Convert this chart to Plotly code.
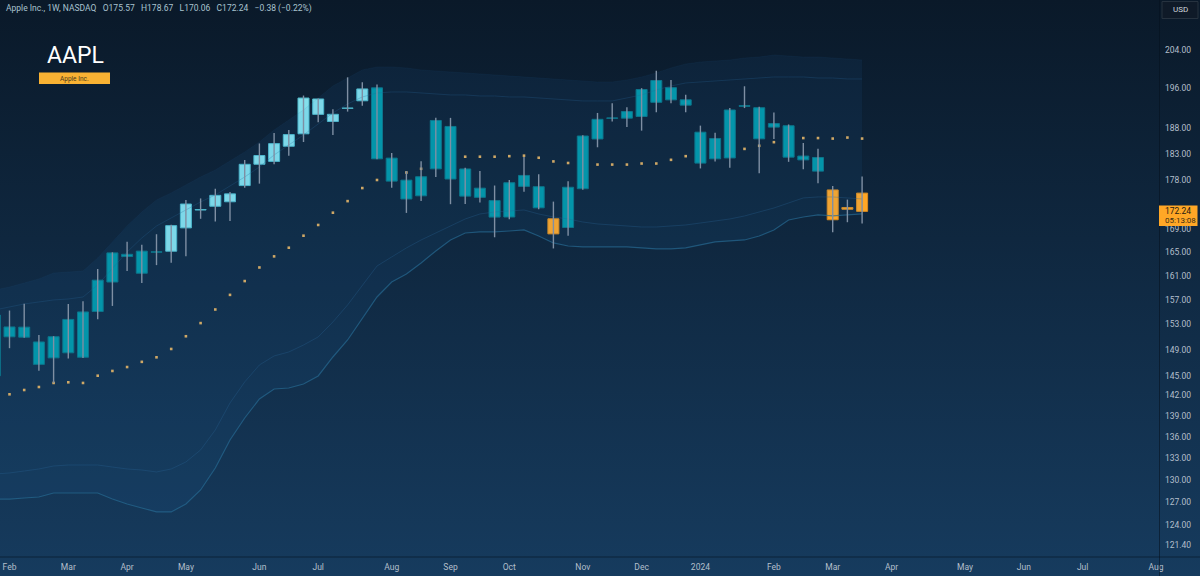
import base64
import math
import pandas as pd
import plotly.graph_objects as go

# ---------------- data (weekly AAPL) ----------------
week_start = "2023-01-30"
n_weeks = 60
dates = pd.date_range(week_start, periods=n_weeks, freq="7D")

opens = [144.96, 152.58, 150.95, 150.20, 147.71, 153.79, 147.81, 155.07, 159.94, 164.27,
         161.42, 165.09, 165.19, 169.28, 172.48, 173.16, 173.98, 176.96, 182.63, 181.50,
         184.41, 186.83, 193.78, 189.26, 191.90, 193.41, 196.06, 182.13, 177.97, 175.07,
         180.09, 188.28, 180.07, 176.48, 174.20, 171.22, 176.81, 176.75, 170.91, 169.35,
         176.38, 185.82, 189.89, 189.92, 190.26, 193.11, 196.09, 193.61, 187.15, 181.99,
         182.16, 192.30, 192.01, 188.15, 188.42, 181.79, 182.24, 176.15, 172.94, 175.57]
highs = [157.38, 155.23, 156.33, 151.30, 151.11, 156.30, 156.74, 162.14, 165.00, 166.84,
         166.32, 168.16, 169.85, 174.30, 174.59, 176.39, 175.77, 181.78, 184.95, 186.99,
         187.56, 194.48, 193.88, 191.70, 198.23, 197.20, 196.73, 183.13, 179.69, 181.55,
         189.98, 189.98, 180.30, 179.70, 176.97, 177.99, 182.34, 179.08, 174.01, 177.78,
         186.57, 190.96, 192.93, 192.09, 195.99, 199.62, 197.68, 194.66, 188.44, 187.05,
         191.95, 196.38, 192.20, 191.05, 188.67, 185.04, 183.92, 176.90, 174.38, 178.67]
lows = [142.85, 149.22, 150.85, 145.72, 143.90, 147.61, 147.70, 153.80, 155.98, 161.80,
        159.78, 162.80, 163.20, 164.31, 170.90, 170.42, 170.52, 176.57, 177.32, 180.97,
        182.59, 185.23, 189.10, 186.60, 191.23, 192.40, 181.92, 176.55, 171.96, 174.10,
        178.55, 173.54, 173.58, 173.86, 167.62, 170.82, 175.80, 172.64, 165.67, 167.90,
        176.21, 184.21, 189.25, 188.19, 187.45, 191.09, 192.90, 191.09, 180.17, 181.50,
        180.30, 191.94, 179.25, 185.84, 181.42, 180.00, 177.38, 168.49, 170.29, 170.06]
closes = [154.50, 151.01, 152.55, 146.71, 151.03, 148.50, 155.00, 160.25, 164.90, 164.66,
          165.21, 165.02, 169.68, 173.57, 172.57, 175.16, 175.43, 180.95, 180.96, 184.92,
          186.68, 193.97, 190.68, 190.69, 191.94, 195.83, 181.99, 177.79, 174.49, 178.61,
          189.46, 178.18, 175.01, 174.79, 171.21, 177.49, 178.85, 172.88, 168.22, 176.65,
          186.40, 189.69, 189.97, 191.24, 195.71, 197.57, 193.60, 192.53, 181.18, 185.92,
          191.56, 192.42, 185.85, 188.85, 182.31, 182.52, 179.66, 170.73, 172.62, 172.24]
candle_class = (["teal"] * 12 + ["light"] * 14 + ["teal"] * 12 + ["orange"]
                + ["teal"] * 18 + ["orange"] * 3)

# dotted indicator (None where it is hidden behind a candle)
dots = [None, 142.18, 142.82, 143.27, 143.88, 143.98, 143.88, 144.98, 145.70, 146.3,
        147.1, 147.8, 149.1, 151.1, 153.2, 155.4, 157.8, 160.1, 162.4, 164.3,
        165.8, 167.9, 169.8, 172.0, 174.1, 176.5, 178.0, None, 179.4, 180.1,
        None, None, 182.4, 182.4, 182.4, 182.5, 182.6, 182.2, 181.5, 181.2,
        None, 180.9, 180.9, 180.9, 181.1, 181.1, 181.8, 182.5, None, None,
        None, 183.9, 184.5, 185.2, None, 186.0, 186.0, 185.9, 186.1, 185.9]

# envelope lines
upper_outer = [158.61, 159.11, 159.78, 160.46, 161.46, 161.63, 161.80, 164.03, 166.80, 169.62,
               172.13, 174.31, 175.60, 177.07, 178.56, 179.88, 181.59, 183.31, 185.24, 187.59,
               189.56, 191.56, 193.99, 196.44, 198.09, 199.77, 200.40, 200.40, 200.19, 199.77,
               199.56, 199.35, 199.14, 198.93, 198.72, 198.51, 198.30, 198.09, 197.89, 197.68,
               197.47, 197.27, 197.27, 197.68, 198.30, 199.14, 200.19, 201.02, 201.44, 201.65,
               201.87, 202.29, 202.50, 202.93, 202.72, 202.50, 202.50, 202.29, 202.08, 201.87]
upper_inner = [155.32, 155.81, 156.30, 156.63, 156.96, 157.12, 157.45, 159.45, 162.31, 165.06,
               167.50, 169.62, 171.05, 172.49, 173.95, 175.23, 176.89, 178.56, 180.45, 182.73,
               184.66, 186.61, 188.77, 190.96, 192.77, 194.19, 195.00, 195.21, 195.21, 195.00,
               194.80, 194.60, 194.60, 194.39, 194.39, 194.19, 194.19, 193.99, 193.78, 193.58,
               193.38, 193.38, 193.38, 193.99, 194.60, 195.62, 196.44, 197.06, 197.27, 197.47,
               197.68, 197.89, 198.09, 198.30, 198.30, 198.30, 198.09, 198.09, 197.89, 197.89]
lower_inner = [130.78, 130.92, 131.19, 131.47, 131.88, 132.02, 132.02, 132.02, 131.74, 131.47,
               131.33, 131.06, 131.47, 132.44, 134.12, 136.96, 140.89, 144.03, 146.62, 148.01,
               148.63, 149.72, 150.99, 153.38, 156.14, 159.45, 162.65, 164.20, 165.76, 167.15,
               168.38, 169.62, 170.87, 171.77, 172.13, 172.31, 172.49, 171.77, 171.23, 170.87,
               170.33, 169.98, 169.80, 169.62, 169.44, 169.44, 169.62, 169.80, 170.15, 170.51,
               170.87, 171.41, 172.13, 172.85, 173.76, 174.68, 174.86, 174.86, 174.68, 174.49]
lower_outer = [127.39, 127.39, 127.53, 127.66, 128.20, 128.20, 128.20, 128.20, 127.39, 126.73,
               126.20, 125.68, 125.68, 126.73, 128.61, 131.61, 135.53, 138.69, 141.48, 142.97,
               143.12, 143.72, 144.94, 147.85, 150.51, 154.02, 157.45, 159.95, 161.30, 163.17,
               165.24, 167.15, 168.38, 168.56, 168.56, 168.73, 168.91, 167.85, 166.63, 166.10,
               165.93, 165.93, 165.93, 165.93, 165.76, 165.58, 165.58, 165.76, 166.28, 166.80,
               166.98, 167.15, 167.85, 168.91, 170.69, 171.23, 171.59, 171.41, 171.59, 171.77]

price_ticks = [204, 196, 188, 183, 178, 169, 165, 161, 157, 153, 149, 145, 142,
               139, 136, 133, 130, 127, 124, 121.40]
month_ticks = ["2023-02-06", "2023-03-06", "2023-04-03", "2023-05-01", "2023-06-05",
               "2023-07-03", "2023-08-07", "2023-09-04", "2023-10-02", "2023-11-06",
               "2023-12-04", "2024-01-01", "2024-02-05", "2024-03-04", "2024-04-01",
               "2024-05-06", "2024-06-03", "2024-07-01", "2024-08-05"]
month_labels = ["Feb", "Mar", "Apr", "May", "Jun", "Jul", "Aug", "Sep", "Oct", "Nov",
                "Dec", "2024", "Feb", "Mar", "Apr", "May", "Jun", "Jul", "Aug"]

# ---------------- styling ----------------
W, H = 1200, 576
PL, PR, PT, PB = 0, 41, 0, 19
PW, PH = W - PL - PR, H - PT - PB

fill_map = {"teal": "#0097a7", "light": "#84dfeb", "orange": "#ffa726"}
edge_map = {"teal": "#0b7486", "light": "#4fb9ca", "orange": "#d98a1f"}
wick_color = "#7f8fa3"
tick_color = "#b3bfcb"
FONT = "Roboto"

week_ms = 7 * 24 * 3600 * 1000
x_start = pd.Timestamp("2023-02-06") - pd.Timedelta(days=7 * 9.5 / 14.7)
x_end = x_start + pd.Timedelta(days=7 * PW / 14.7)
y_range = [math.log10(119.88), math.log10(214.97)]

fig = go.Figure()

# envelope fill + lines
fig.add_trace(go.Scatter(x=dates, y=upper_outer, mode="lines",
                         line=dict(color="rgba(40,100,150,0.12)", width=0.8),
                         hoverinfo="skip"))
fig.add_trace(go.Scatter(x=dates, y=lower_outer, mode="lines", fill="tonexty",
                         fillcolor="rgba(45,130,210,0.075)",
                         line=dict(color="rgba(38,105,145,0.7)", width=1.2),
                         hoverinfo="skip"))
fig.add_trace(go.Scatter(x=dates, y=upper_inner, mode="lines",
                         line=dict(color="rgba(40,100,150,0.28)", width=1),
                         hoverinfo="skip"))
fig.add_trace(go.Scatter(x=dates, y=lower_inner, mode="lines",
                         line=dict(color="rgba(40,100,150,0.32)", width=1),
                         hoverinfo="skip"))

# dots
fig.add_trace(go.Scatter(x=dates, y=dots, mode="markers",
                         marker=dict(symbol="square", size=2.6, color="#cfa866",
                                     line=dict(width=0)),
                         hoverinfo="skip"))

# wicks
wx, wy = [], []
for d, lo, hi in zip(dates, lows, highs):
    wx += [d, d, None]
    wy += [lo, hi, None]
fig.add_trace(go.Scatter(x=wx, y=wy, mode="lines",
                         line=dict(color=wick_color, width=1.4), hoverinfo="skip"))

# bodies
fig.add_trace(go.Bar(
    x=dates,
    base=[min(o, c) for o, c in zip(opens, closes)],
    y=[abs(c - o) for o, c in zip(opens, closes)],
    width=0.75 * week_ms,
    marker=dict(color=[fill_map[k] for k in candle_class],
                line=dict(color=[edge_map[k] for k in candle_class], width=1)),
    hoverinfo="skip"))

# ---------------- background gradient ----------------
svg = (f'<svg xmlns="http://www.w3.org/2000/svg" width="{W}" height="{H}" '
       f'preserveAspectRatio="none"><defs><linearGradient id="g" x1="0" y1="0" '
       f'x2="0" y2="1"><stop offset="0" stop-color="#0a1929"/>'
       f'<stop offset="1" stop-color="#163b5e"/></linearGradient></defs>'
       f'<rect width="{W}" height="{H}" fill="url(#g)"/></svg>')
bg_src = "data:image/svg+xml;base64," + base64.b64encode(svg.encode()).decode()


def px(x):
    return (x - PL) / PW


def py(y):
    return 1 - (y - PT) / PH


last_o, last_h, last_l, last_c = opens[-1], highs[-1], lows[-1], closes[-1]
chg = last_c - closes[-2]
pct = chg / closes[-2] * 100
nb = "\u00a0"
sign = "\u2212" if chg < 0 else "+"
header = (f"Apple Inc., 1W, NASDAQ{nb*2} O{last_o:.2f}{nb*2} H{last_h:.2f}{nb*2} "
          f"L{last_l:.2f}{nb*2} C{last_c:.2f}{nb*2} {sign}{abs(chg):.2f} "
          f"({sign}{abs(pct):.2f}%)")

shapes = [
    # axis separators
    dict(type="line", xref="paper", yref="paper", x0=px(0), x1=px(W), y0=py(557), y1=py(557),
         line=dict(color="rgba(6,16,30,0.55)", width=1), layer="above"),
    dict(type="line", xref="paper", yref="paper", x0=px(1159.5), x1=px(1159.5), y0=py(0), y1=py(H),
         line=dict(color="rgba(6,16,30,0.55)", width=1), layer="above"),
    # Apple Inc. tag
    dict(type="rect", xref="paper", yref="paper", x0=px(39), x1=px(110), y0=py(84), y1=py(72.5),
         fillcolor="#f9b233", line=dict(width=0), layer="above"),
    # USD box
    dict(type="rect", xref="paper", yref="paper", x0=px(1162), x1=px(1198), y0=py(18.5), y1=py(1.5),
         fillcolor="#0f1a28", line=dict(color="#26323f", width=1), layer="above"),
    # last price label
    dict(type="rect", xref="paper", yref="paper", x0=px(1159), x1=px(1197.5), y0=py(226), y1=py(205.5),
         fillcolor="#ffa726", line=dict(width=0), layer="above"),
]

annotations = [
    dict(text=header, xref="paper", yref="paper", x=px(4), y=py(8.5), xanchor="left",
         yanchor="middle", showarrow=False, font=dict(family=FONT, size=8.5, color="#a9c3cf")),
    dict(text="AAPL", xref="paper", yref="paper", x=px(75), y=py(55), xanchor="center",
         yanchor="middle", showarrow=False, font=dict(family=FONT, size=23, color="#ffffff")),
    dict(text="Apple Inc.", xref="paper", yref="paper", x=px(74.5), y=py(78.5), xanchor="center",
         yanchor="middle", showarrow=False, font=dict(family=FONT, size=6.5, color="#4a3a1c")),
    dict(text="USD", xref="paper", yref="paper", x=px(1180), y=py(10), xanchor="center",
         yanchor="middle", showarrow=False, font=dict(family=FONT, size=8, color="#d0d6de")),
    dict(text=f"{last_c:.2f}", xref="paper", yref="paper", x=px(1163), y=py(211.5), xanchor="left",
         yanchor="middle", showarrow=False, font=dict(family=FONT, size=8.5, color="#1e1a12")),
    dict(text="05:13:08", xref="paper", yref="paper", x=px(1163), y=py(220.5), xanchor="left",
         yanchor="middle", showarrow=False, font=dict(family=FONT, size=8, color="#3a2c14")),
]

fig.update_layout(
    width=W, height=H,
    margin=dict(l=PL, r=PR, t=PT, b=PB, pad=0),
    paper_bgcolor="#10294a",
    plot_bgcolor="rgba(0,0,0,0)",
    showlegend=False,
    barmode="overlay",
    hovermode=False,
    xaxis=dict(type="date", range=[x_start, x_end], tickvals=month_ticks, ticktext=month_labels,
               showgrid=False, zeroline=False, showline=False, ticks="",
               ticklabelstandoff=3,
               tickfont=dict(family=FONT, size=8.5, color=tick_color)),
    yaxis=dict(type="log", side="right", range=y_range, tickvals=price_ticks,
               ticktext=[f"{v:.2f}" for v in price_ticks],
               showgrid=False, zeroline=False, showline=False, ticks="",
               ticklabelstandoff=5,
               tickfont=dict(family=FONT, size=8.5, color=tick_color)),
    images=[dict(source=bg_src, xref="paper", yref="paper", x=px(0), y=py(0),
                 sizex=W / PW, sizey=H / PH, xanchor="left", yanchor="top",
                 sizing="stretch", layer="below")],
    shapes=shapes,
    annotations=annotations,
)

fig.write_html("out.html", config={"displayModeBar": False})
